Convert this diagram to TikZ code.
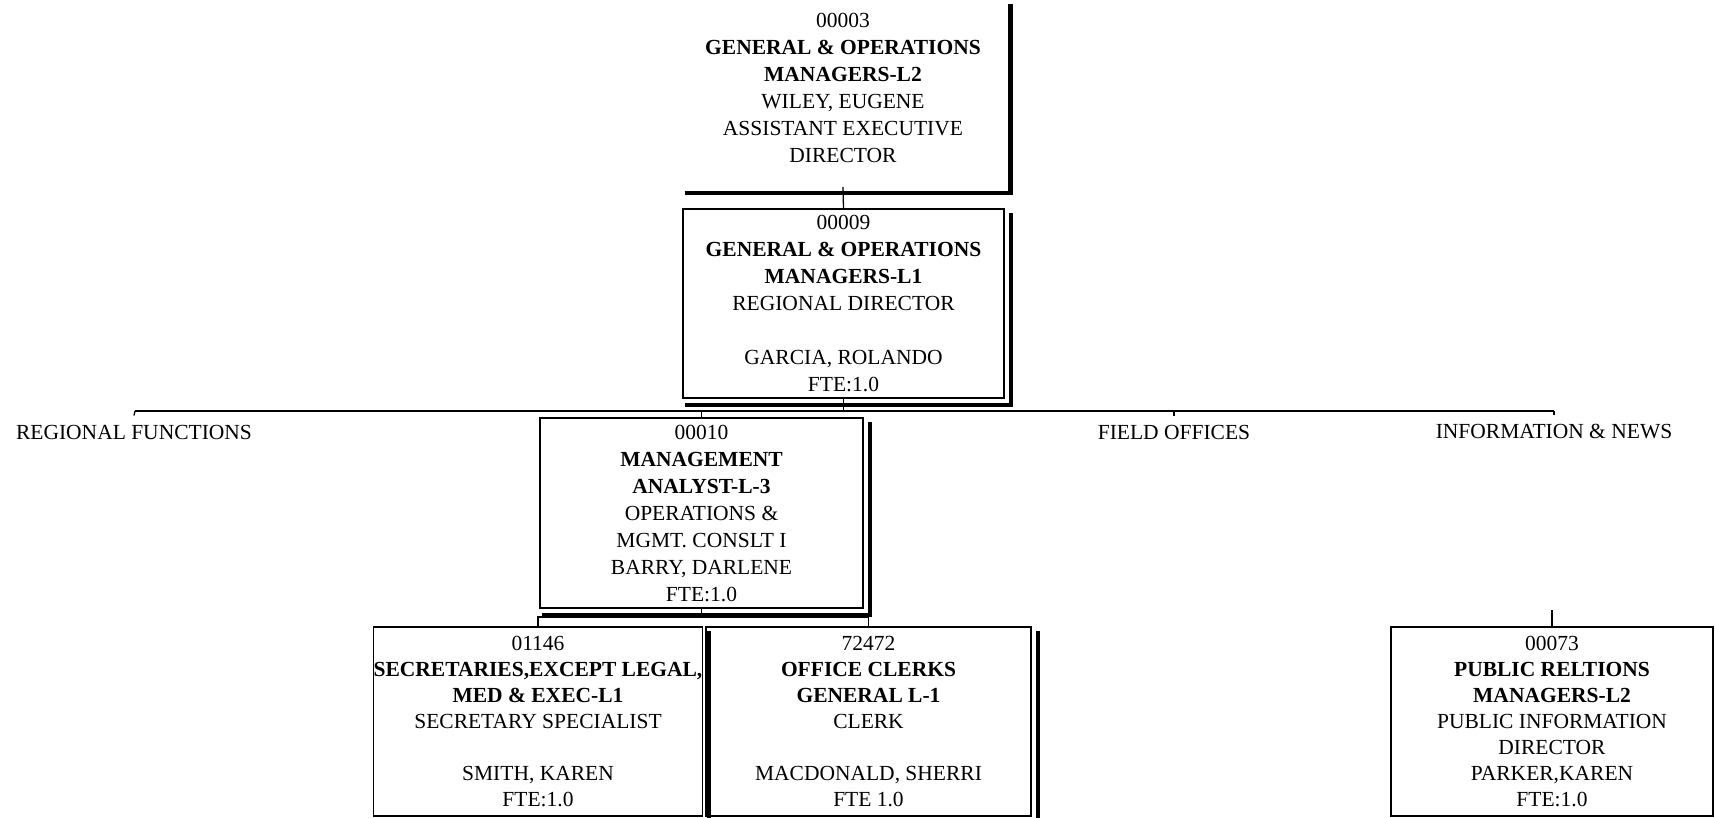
\documentclass[tikz,border=0pt]{standalone}
\usepackage{fontspec}
\setmainfont{Liberation Serif}
\begin{document}
\begin{tikzpicture}[x=1pt,y=-1pt,
  every node/.style={font=\fontsize{21.5}{27}\selectfont},
  posbox/.style={draw, line width=1.6pt, align=center, inner sep=0pt,
                 minimum height=189pt, fill=white},
  lowbox/.style={posbox, font=\fontsize{21.5}{26}\selectfont},
  grouplabel/.style={inner xsep=2pt, inner ysep=9pt},
  link/.style={line width=1.3pt},
  shadowline/.style={line width=4.5pt, line join=miter}]
\useasboundingbox (0,0) rectangle (1715,817);

% drop shadow along the lower and right edges of a position box
\newcommand\boxshadow[1]{%
  \draw[shadowline] ([xshift=3pt,yshift=-6pt]#1.south west)
    -- ([xshift=6pt,yshift=-6pt]#1.south east)
    -- ([xshift=6pt,yshift=-5pt]#1.north east);}

% positions
\node[posbox, draw=none, fill=none, minimum width=321pt, minimum height=186pt] (box1) at (843,93)
  {00003\\ \textbf{GENERAL \& OPERATIONS}\\ \textbf{MANAGERS-L2}\\ WILEY, EUGENE\\
   ASSISTANT EXECUTIVE\\ DIRECTOR\\[-17pt]\mbox{}};
\node[posbox, minimum width=321pt] (box2) at (843.5,303.5)
  {00009\\ \textbf{GENERAL \& OPERATIONS}\\ \textbf{MANAGERS-L1}\\ REGIONAL DIRECTOR\\
   \mbox{}\\ GARCIA, ROLANDO\\ FTE:1.0};
\node[posbox, minimum width=323pt, minimum height=190pt] (box3) at (701.5,513)
  {00010\\ \textbf{MANAGEMENT}\\ \textbf{ANALYST-L-3}\\ OPERATIONS \&\\
   MGMT. CONSLT I\\ BARRY, DARLENE\\ FTE:1.0};
\node[lowbox, minimum width=328pt] (box4) at (538,721.5)
  {01146\\ \textbf{SECRETARIES,EXCEPT LEGAL,}\\ \textbf{MED \& EXEC-L1}\\
   SECRETARY SPECIALIST\\ \mbox{}\\ SMITH, KAREN\\ FTE:1.0};
\node[lowbox, minimum width=325pt] (box5) at (868.5,721.5)
  {72472\\ \textbf{OFFICE CLERKS}\\ \textbf{GENERAL L-1}\\ CLERK\\ \mbox{}\\
   MACDONALD, SHERRI\\ FTE 1.0};
\node[lowbox, minimum width=322pt] (box6) at (1552,721.5)
  {00073\\ \textbf{PUBLIC RELTIONS}\\ \textbf{MANAGERS-L2}\\ PUBLIC INFORMATION\\
   DIRECTOR\\ PARKER,KAREN\\ FTE:1.0};

% group headings under the regional bus
\node[grouplabel] (regional) at (134,432) {REGIONAL FUNCTIONS};
\node[grouplabel] (fieldoffices) at (1174,432) {FIELD OFFICES};
\node[grouplabel] (infonews) at (1554,432) {INFORMATION \& NEWS};

% shadows
\boxshadow{box1}
\boxshadow{box2}
\boxshadow{box3}
\boxshadow{box4}
\boxshadow{box5}
\boxshadow{box6}

% reporting lines
\coordinate (busL) at (135,411);
\coordinate (busR) at (1554,411);
\coordinate (subbus) at (0,617);
\coordinate (pubstub) at (1552,610);

\draw[link] (box1.south) -- (box2.north);
\draw[link] (busL) -- (busR);
\draw[link] (box2.south) -- (box2.south |- busL);
\draw[link] (busL) -- (regional.north);
\draw[link] (fieldoffices.north |- busL) -- (fieldoffices.north);
\draw[link] (busR) -- (infonews.north);
\draw[link] (box3.north |- busL) -- (box3.north);
\draw[link] (box3.south) -- (box3.south |- subbus);
\draw[link] (box4.north) -- (box4.north |- subbus) -- (box5.north |- subbus) -- (box5.north);
\draw[link] (pubstub) -- (box6.north);
\end{tikzpicture}
\end{document}
